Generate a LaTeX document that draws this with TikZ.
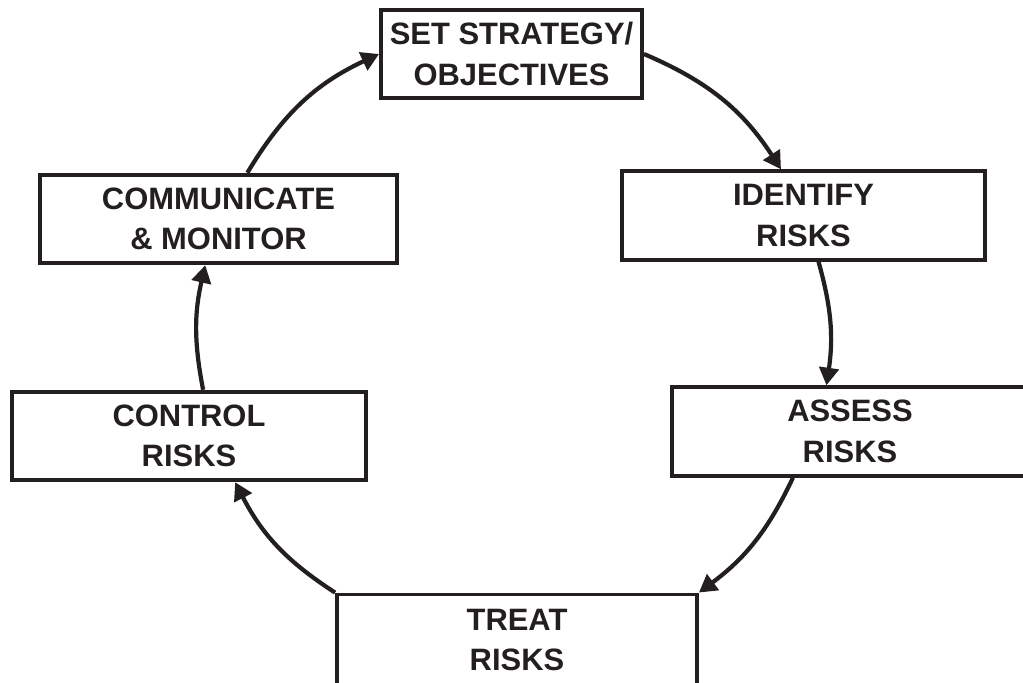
\documentclass[tikz,border=0pt]{standalone}
\usepackage{fontspec}
\setmainfont{Liberation Sans}
\usetikzlibrary{arrows.meta}
\definecolor{tinta}{RGB}{35,31,32}
\begin{document}
\begin{tikzpicture}[
      caja/.style={draw=tinta, line width=2.2pt, inner sep=0pt, minimum height=1.77cm, align=center, text=tinta, font=\fontsize{17.6}{23}\selectfont\bfseries},
      flecha/.style={draw=tinta, line width=2.4pt, -{Triangle[length=10pt,width=11pt]}}
    ]
    \useasboundingbox (0,0) rectangle (20.46,-13.66);
    \clip (0,0) rectangle (20.46,-13.66);

    % --- etapas del ciclo ---
    \node[caja, minimum width=5.22cm] (estr) at (10.23,-1.08) {SET STRATEGY/\\OBJECTIVES};
    \node[caja, minimum width=7.26cm] (iden) at (16.07,-4.31) {IDENTIFY\\RISKS};
    \node[caja, minimum width=7.12cm] (eval) at (17.0,-8.63) {ASSESS\\RISKS};
    \node[caja, minimum width=7.2cm, minimum height=1.82cm] (trat) at (10.34,-12.8) {TREAT\\RISKS};
    \node[caja, minimum width=7.08cm] (ctrl) at (3.78,-8.72) {CONTROL\\RISKS};
    \node[caja, minimum width=7.14cm] (comu) at (4.37,-4.38) {COMMUNICATE\\\& MONITOR};

    % --- flechas ---
    \draw[flecha] (estr.east) to[bend left=17] (iden.116);
    \draw[flecha] (iden.288) to[bend left=12] (eval.117);
    \draw[flecha] (eval.219) to[bend left=14] (trat.north east);
    \draw[flecha] (trat.north west) to[bend left=15] (ctrl.315);
    \draw[flecha] (ctrl.73) to[bend left=12] (comu.254);
    \draw[flecha] (comu.58) to[bend left=17] (estr.west);
  \end{tikzpicture}
\end{document}
